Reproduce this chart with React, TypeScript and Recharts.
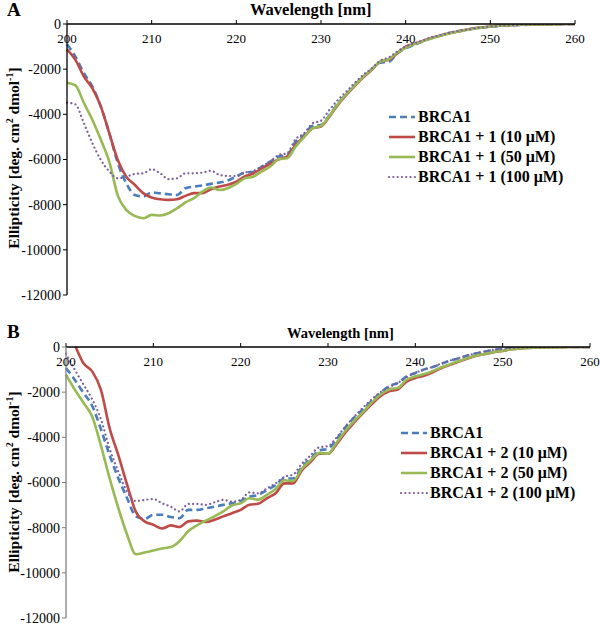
import { LineChart, Line, XAxis, YAxis } from "recharts";

// wavelength grid, nm
const wavelength = [
  200, 201, 202, 203, 204, 205, 206, 207, 208, 209, 210, 211, 212, 213, 214, 215, 216, 217, 218, 219, 220,
  221, 222, 223, 224, 225, 226, 227, 228, 229, 230, 231, 232, 233, 234, 235, 236, 237, 238, 239, 240,
  241, 242, 243, 244, 245, 246, 247, 248, 249, 250, 251, 252, 253, 254, 255, 256, 257, 258, 259, 260,
];

const xTicks = [200, 210, 220, 230, 240, 250, 260];
const yTicks = [0, -2000, -4000, -6000, -8000, -10000, -12000];

// panel A
const aBrca1 = [
  -900, -1450, -2180, -2770, -3660, -4840, -6160, -7050, -7570, -7640, -7460, -7500, -7540, -7570, -7270, -7200, -7150, -7080, -7020, -6930, -6750, -6580, -6550,
  -6310, -6090, -5870, -5800, -5210, -4910, -4510, -4470, -4030, -3510, -3100, -2700, -2330, -2000, -1710, -1670, -1300,
  -1080, -930, -780, -630, -530, -410, -340, -270, -200, -160, -120, -90, -70, -50, -40, -30, -20, -15, -10, -5, 0,
];
const aC1_10 = [
  -1120, -1590, -2330, -2850, -3660, -4840, -6020, -6760, -7120, -7490, -7680, -7760, -7790, -7760, -7610, -7490, -7490, -7320, -7200, -7120, -6980, -6750, -6620,
  -6390, -6190, -5990, -5870, -5350, -4990, -4620, -4540, -4100, -3580, -3140, -2740, -2360, -2030, -1670, -1590, -1300,
  -1000, -880, -750, -620, -520, -420, -340, -270, -200, -150, -110, -80, -60, -40, -30, -20, -15, -10, -5, 0, 0,
];
const aC1_50 = [
  -2600, -2720, -3500, -4250, -5130, -6100, -7600, -8230, -8500, -8600, -8450, -8480, -8380, -8160, -7900, -7710, -7420, -7240, -7350, -7270, -7080, -6830, -6760,
  -6530, -6310, -5990, -5940, -5430, -5010, -4620, -4510, -4070, -3540, -3100, -2710, -2330, -2000, -1670, -1560, -1270,
  -1050, -900, -770, -640, -530, -430, -350, -280, -210, -160, -120, -80, -60, -40, -30, -20, -15, -10, -5, 0, 0,
];
const aC1_100 = [
  -3480, -3560, -4400, -5280, -6020, -6530, -6830, -6760, -6640, -6610, -6430, -6610, -6870, -6830, -6610, -6610, -6580, -6500, -6680, -6730, -6730, -6580, -6510,
  -6310, -6090, -5800, -5720, -5100, -4840, -4400, -4280, -3800, -3360, -2990, -2600, -2250, -1960, -1620, -1480, -1220,
  -1000, -860, -730, -600, -500, -400, -320, -260, -200, -150, -110, -80, -60, -40, -30, -20, -15, -10, -5, 0, 0,
];

// panel B
const bBrca1 = [
  -930, -1450, -2030, -2610, -3640, -4800, -5820, -6700, -7500, -7610, -7430, -7430, -7530, -7580, -7210, -7210, -7140, -7070, -6990, -6920, -6820, -6630, -6550,
  -6340, -6120, -5820, -5820, -5310, -4950, -4580, -4510, -4070, -3560, -3120, -2760, -2390, -2030, -1740, -1590, -1300,
  -1150, -1000, -890, -740, -600, -500, -380, -280, -200, -130, -90, -50, -30, -20, -10, -5, 0, 0, 0, 0, 0,
];
const bC2_10 = [
  1000, 100, -720, -1080, -1900, -3600, -4800, -6100, -7300, -7720, -7870, -8040, -7900, -7970, -7720, -7690, -7750, -7650, -7500, -7360, -7210, -6990, -6940,
  -6700, -6480, -6040, -6040, -5460, -5090, -4730, -4730, -4290, -3780, -3340, -2930, -2540, -2180, -1960, -1880, -1530,
  -1370, -1270, -1120, -930, -790, -640, -510, -390, -310, -230, -175, -100, -60, -40, -25, -15, -10, -5, 0, 0, 0,
];
const bC2_50 = [
  -1230, -1880, -2470, -3080, -4370, -5820, -7140, -8310, -9180, -9100, -9010, -8920, -8860, -8600, -8160, -7900, -7690, -7500, -7280, -7020, -6920, -6700, -6760,
  -6550, -6290, -5900, -5940, -5390, -5020, -4690, -4730, -4220, -3710, -3270, -2880, -2470, -2100, -1880, -1810, -1450,
  -1300, -1200, -1060, -900, -760, -620, -490, -380, -300, -220, -165, -100, -60, -40, -25, -15, -10, -5, 0, 0, 0,
];
const bC2_100 = [
  -300, -1000, -1660, -2320, -3200, -4510, -5530, -6410, -6820, -6770, -6730, -6920, -7070, -7280, -6950, -6950, -6990, -6880, -6770, -6850, -6770, -6440, -6480,
  -6260, -6040, -5750, -5650, -5170, -4800, -4440, -4390, -4000, -3520, -3090, -2690, -2320, -2000, -1770, -1590, -1330,
  -1150, -1000, -880, -730, -600, -490, -370, -270, -190, -120, -80, -45, -25, -15, -10, -5, 0, 0, 0, 0, 0,
];

const serif = '"Liberation Serif", "Times New Roman", serif';

type Series = {
  key: string;
  name: string;
  color: string;
  width: number;
  dash?: string;
  cap?: "round" | "butt";
};

const styleBlue = { color: "#4A7EBB", width: 2.6, dash: "7 4" };
const styleRed = { color: "#BE4B48", width: 2.6 };
const styleGreen = { color: "#98B954", width: 2.6 };
const stylePurple = { color: "#7D60A0", width: 2.2, dash: "0.1 4.2", cap: "round" as const };

const seriesA: Series[] = [
  { key: "s0", name: "BRCA1", ...styleBlue },
  { key: "s1", name: "BRCA1 + 1 (10 μM)", ...styleRed },
  { key: "s2", name: "BRCA1 + 1 (50 μM)", ...styleGreen },
  { key: "s3", name: "BRCA1 + 1 (100 μM)", ...stylePurple },
];
const seriesB: Series[] = [
  { key: "s0", name: "BRCA1", ...styleBlue },
  { key: "s1", name: "BRCA1 + 2 (10 μM)", ...styleRed },
  { key: "s2", name: "BRCA1 + 2 (50 μM)", ...styleGreen },
  { key: "s3", name: "BRCA1 + 2 (100 μM)", ...stylePurple },
];

function buildRows(cols: number[][]) {
  return wavelength.map((wl, i) => {
    const row: Record<string, number> = { wl };
    cols.forEach((c, j) => {
      row["s" + j] = c[i];
    });
    return row;
  });
}

const rowsA = buildRows([aBrca1, aC1_10, aC1_50, aC1_100]);
const rowsB = buildRows([bBrca1, bC2_10, bC2_50, bC2_100]);

function LegendBox({ series, left, top }: { series: Series[]; left: number; top: number }) {
  return (
    <div
      style={{
        position: "absolute",
        left,
        top,
        fontFamily: serif,
        fontWeight: 700,
        fontSize: 16,
        color: "#000",
      }}
    >
      {series.map((s) => (
        <div key={s.key} style={{ display: "flex", alignItems: "center", height: 20, whiteSpace: "nowrap" }}>
          <svg width={30} height={8} style={{ flexShrink: 0 }}>
            <line
              x1={1}
              y1={4}
              x2={27}
              y2={4}
              stroke={s.color}
              strokeWidth={s.width}
              strokeDasharray={s.dash}
              strokeLinecap={s.cap ?? "butt"}
            />
          </svg>
          <span>{s.name}</span>
        </div>
      ))}
    </div>
  );
}

type PanelProps = {
  rows: Record<string, number>[];
  series: Series[];
  top: number;
  margin: { top: number; right: number; bottom: number; left: number };
  plotTop: number;
  yAxisColor: string;
};

function Panel({ rows, series, top, margin, plotTop, yAxisColor }: PanelProps) {
  const XTick = (props: any) => (
    <text
      x={props.x}
      y={plotTop + 19}
      textAnchor="middle"
      fontSize={13}
      fontFamily={serif}
      fill="#000"
    >
      {props.payload.value}
    </text>
  );
  return (
    <div style={{ position: "absolute", left: 0, top }}>
      <LineChart width={600} height={310} data={rows} margin={margin}>
        <XAxis
          dataKey="wl"
          type="number"
          orientation="top"
          domain={[200, 260]}
          ticks={xTicks}
          interval={0}
          height={20}
          tick={XTick}
          tickSize={4}
          axisLine={{ stroke: "#000", strokeWidth: 1.3 }}
          tickLine={{ stroke: "#000" }}
        />
        <YAxis
          type="number"
          domain={[-12000, 0]}
          ticks={yTicks}
          interval={0}
          allowDataOverflow
          width={60}
          tickSize={4}
          tickMargin={2}
          tick={{ fontSize: 14, fontFamily: serif, fill: "#000" }}
          axisLine={{ stroke: yAxisColor, strokeWidth: 1.3 }}
          tickLine={{ stroke: yAxisColor }}
        />
        {series.map((s) => (
          <Line
            key={s.key}
            dataKey={s.key}
            name={s.name}
            type="monotone"
            stroke={s.color}
            strokeWidth={s.width}
            strokeDasharray={s.dash}
            strokeLinecap={s.cap ?? "butt"}
            dot={false}
            activeDot={false}
            isAnimationActive={false}
          />
        ))}
      </LineChart>
    </div>
  );
}

function YLabel({ cx, cy }: { cx: number; cy: number }) {
  return (
    <div
      style={{
        position: "absolute",
        left: cx - 150,
        top: cy - 10,
        width: 300,
        height: 20,
        lineHeight: "20px",
        textAlign: "center",
        transform: "rotate(-90deg)",
        fontFamily: serif,
        fontWeight: 700,
        fontSize: 15.5,
        whiteSpace: "nowrap",
      }}
    >
      Ellipticity [deg. cm<sup style={{ fontSize: 10, lineHeight: 0 }}>2</sup> dmol
      <sup style={{ fontSize: 10, lineHeight: 0 }}>-1</sup>]
    </div>
  );
}

const titleStyle = {
  position: "absolute" as const,
  fontFamily: serif,
  fontWeight: 700,
  whiteSpace: "nowrap" as const,
  color: "#000",
};

export default function App() {
  return (
    <div style={{ position: "absolute", left: 0, top: 0, width: 600, height: 626, background: "#fff", overflow: "hidden" }}>
      <Panel
        rows={rowsA}
        series={seriesA}
        top={0}
        margin={{ top: 4, right: 25, bottom: 15, left: 7 }}
        plotTop={24}
        yAxisColor="#000"
      />
      <Panel
        rows={rowsB}
        series={seriesB}
        top={316}
        margin={{ top: 11, right: 10, bottom: 8, left: 6 }}
        plotTop={31}
        yAxisColor="#808080"
      />
      <div style={{ ...titleStyle, left: 7, top: 0, fontSize: 19, lineHeight: "20px" }}>A</div>
      <div style={{ ...titleStyle, left: 7, top: 322, fontSize: 19, lineHeight: "20px" }}>B</div>
      <div style={{ ...titleStyle, left: 250, top: 1, fontSize: 16.5, lineHeight: "18px" }}>Wavelength [nm]</div>
      <div style={{ ...titleStyle, left: 287, top: 324, fontSize: 14.5, lineHeight: "18px" }}>Wavelength [nm]</div>
      <YLabel cx={14} cy={158} />
      <YLabel cx={14} cy={482} />
      <LegendBox series={seriesA} left={388} top={107} />
      <LegendBox series={seriesB} left={400} top={423} />
    </div>
  );
}
